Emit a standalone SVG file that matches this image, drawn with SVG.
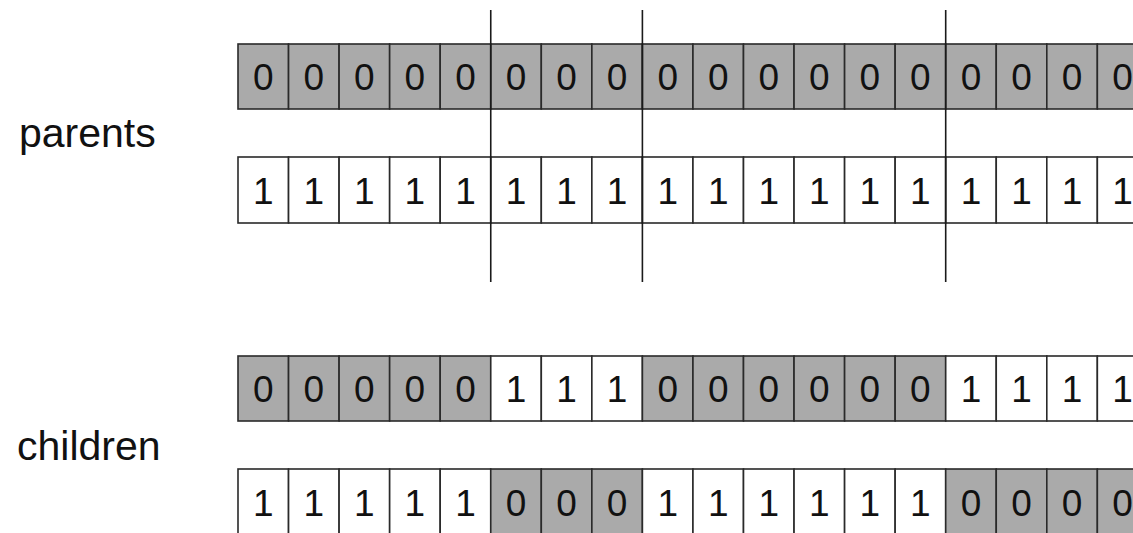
<svg xmlns="http://www.w3.org/2000/svg" width="1133" height="533" viewBox="0 0 1133 533">
<style>
.g{fill:#aaaaaa;stroke:#2a2a2a;stroke-width:1.6}
.w{fill:#ffffff;stroke:#2a2a2a;stroke-width:1.6}
.d{font-family:"Liberation Sans",Arial,sans-serif;font-size:37px;fill:#111;text-anchor:middle}
.lbl{font-family:"Liberation Sans",Arial,sans-serif;font-size:41px;fill:#111}
.cut{stroke:#1a1a1a;stroke-width:1.6;fill:none}
</style>
<rect width="1133" height="533" fill="#ffffff"/>
<g id="label-parents"><text class="lbl" x="19" y="147">parents</text></g>
<g id="label-children"><text class="lbl" x="17" y="460">children</text></g>

<g id="parent-0">
<rect class="g" x="238" y="44" width="50.55" height="65"/><rect class="g" x="288.55" y="44" width="50.55" height="65"/><rect class="g" x="339.1" y="44" width="50.55" height="65"/><rect class="g" x="389.65" y="44" width="50.55" height="65"/><rect class="g" x="440.2" y="44" width="50.55" height="65"/><rect class="g" x="490.75" y="44" width="50.55" height="65"/><rect class="g" x="541.3" y="44" width="50.55" height="65"/><rect class="g" x="591.85" y="44" width="50.55" height="65"/><rect class="g" x="642.4" y="44" width="50.55" height="65"/><rect class="g" x="692.95" y="44" width="50.55" height="65"/><rect class="g" x="743.5" y="44" width="50.55" height="65"/><rect class="g" x="794.05" y="44" width="50.55" height="65"/><rect class="g" x="844.6" y="44" width="50.55" height="65"/><rect class="g" x="895.15" y="44" width="50.55" height="65"/><rect class="g" x="945.7" y="44" width="50.55" height="65"/><rect class="g" x="996.25" y="44" width="50.55" height="65"/><rect class="g" x="1046.8" y="44" width="50.55" height="65"/><rect class="g" x="1097.35" y="44" width="50.55" height="65"/>
<text class="d" x="263.3" y="90">0</text><text class="d" x="313.8" y="90">0</text><text class="d" x="364.4" y="90">0</text><text class="d" x="414.9" y="90">0</text><text class="d" x="465.5" y="90">0</text><text class="d" x="516" y="90">0</text><text class="d" x="566.6" y="90">0</text><text class="d" x="617.1" y="90">0</text><text class="d" x="667.7" y="90">0</text><text class="d" x="718.2" y="90">0</text><text class="d" x="768.8" y="90">0</text><text class="d" x="819.3" y="90">0</text><text class="d" x="869.9" y="90">0</text><text class="d" x="920.4" y="90">0</text><text class="d" x="971" y="90">0</text><text class="d" x="1021.5" y="90">0</text><text class="d" x="1072.1" y="90">0</text><text class="d" x="1122.6" y="90">0</text>
</g>

<g id="parent-1">
<rect class="w" x="238" y="157" width="50.55" height="66"/><rect class="w" x="288.55" y="157" width="50.55" height="66"/><rect class="w" x="339.1" y="157" width="50.55" height="66"/><rect class="w" x="389.65" y="157" width="50.55" height="66"/><rect class="w" x="440.2" y="157" width="50.55" height="66"/><rect class="w" x="490.75" y="157" width="50.55" height="66"/><rect class="w" x="541.3" y="157" width="50.55" height="66"/><rect class="w" x="591.85" y="157" width="50.55" height="66"/><rect class="w" x="642.4" y="157" width="50.55" height="66"/><rect class="w" x="692.95" y="157" width="50.55" height="66"/><rect class="w" x="743.5" y="157" width="50.55" height="66"/><rect class="w" x="794.05" y="157" width="50.55" height="66"/><rect class="w" x="844.6" y="157" width="50.55" height="66"/><rect class="w" x="895.15" y="157" width="50.55" height="66"/><rect class="w" x="945.7" y="157" width="50.55" height="66"/><rect class="w" x="996.25" y="157" width="50.55" height="66"/><rect class="w" x="1046.8" y="157" width="50.55" height="66"/><rect class="w" x="1097.35" y="157" width="50.55" height="66"/>
<text class="d" x="263.3" y="204">1</text><text class="d" x="313.8" y="204">1</text><text class="d" x="364.4" y="204">1</text><text class="d" x="414.9" y="204">1</text><text class="d" x="465.5" y="204">1</text><text class="d" x="516" y="204">1</text><text class="d" x="566.6" y="204">1</text><text class="d" x="617.1" y="204">1</text><text class="d" x="667.7" y="204">1</text><text class="d" x="718.2" y="204">1</text><text class="d" x="768.8" y="204">1</text><text class="d" x="819.3" y="204">1</text><text class="d" x="869.9" y="204">1</text><text class="d" x="920.4" y="204">1</text><text class="d" x="971" y="204">1</text><text class="d" x="1021.5" y="204">1</text><text class="d" x="1072.1" y="204">1</text><text class="d" x="1122.6" y="204">1</text>
</g>

<g id="child-0">
<rect class="g" x="238" y="356" width="50.55" height="65"/><rect class="g" x="288.55" y="356" width="50.55" height="65"/><rect class="g" x="339.1" y="356" width="50.55" height="65"/><rect class="g" x="389.65" y="356" width="50.55" height="65"/><rect class="g" x="440.2" y="356" width="50.55" height="65"/><rect class="w" x="490.75" y="356" width="50.55" height="65"/><rect class="w" x="541.3" y="356" width="50.55" height="65"/><rect class="w" x="591.85" y="356" width="50.55" height="65"/><rect class="g" x="642.4" y="356" width="50.55" height="65"/><rect class="g" x="692.95" y="356" width="50.55" height="65"/><rect class="g" x="743.5" y="356" width="50.55" height="65"/><rect class="g" x="794.05" y="356" width="50.55" height="65"/><rect class="g" x="844.6" y="356" width="50.55" height="65"/><rect class="g" x="895.15" y="356" width="50.55" height="65"/><rect class="w" x="945.7" y="356" width="50.55" height="65"/><rect class="w" x="996.25" y="356" width="50.55" height="65"/><rect class="w" x="1046.8" y="356" width="50.55" height="65"/><rect class="w" x="1097.35" y="356" width="50.55" height="65"/>
<text class="d" x="263.3" y="402">0</text><text class="d" x="313.8" y="402">0</text><text class="d" x="364.4" y="402">0</text><text class="d" x="414.9" y="402">0</text><text class="d" x="465.5" y="402">0</text><text class="d" x="516" y="402">1</text><text class="d" x="566.6" y="402">1</text><text class="d" x="617.1" y="402">1</text><text class="d" x="667.7" y="402">0</text><text class="d" x="718.2" y="402">0</text><text class="d" x="768.8" y="402">0</text><text class="d" x="819.3" y="402">0</text><text class="d" x="869.9" y="402">0</text><text class="d" x="920.4" y="402">0</text><text class="d" x="971" y="402">1</text><text class="d" x="1021.5" y="402">1</text><text class="d" x="1072.1" y="402">1</text><text class="d" x="1122.6" y="402">1</text>
</g>

<g id="child-1">
<rect class="w" x="238" y="469" width="50.55" height="70"/><rect class="w" x="288.55" y="469" width="50.55" height="70"/><rect class="w" x="339.1" y="469" width="50.55" height="70"/><rect class="w" x="389.65" y="469" width="50.55" height="70"/><rect class="w" x="440.2" y="469" width="50.55" height="70"/><rect class="g" x="490.75" y="469" width="50.55" height="70"/><rect class="g" x="541.3" y="469" width="50.55" height="70"/><rect class="g" x="591.85" y="469" width="50.55" height="70"/><rect class="w" x="642.4" y="469" width="50.55" height="70"/><rect class="w" x="692.95" y="469" width="50.55" height="70"/><rect class="w" x="743.5" y="469" width="50.55" height="70"/><rect class="w" x="794.05" y="469" width="50.55" height="70"/><rect class="w" x="844.6" y="469" width="50.55" height="70"/><rect class="w" x="895.15" y="469" width="50.55" height="70"/><rect class="g" x="945.7" y="469" width="50.55" height="70"/><rect class="g" x="996.25" y="469" width="50.55" height="70"/><rect class="g" x="1046.8" y="469" width="50.55" height="70"/><rect class="g" x="1097.35" y="469" width="50.55" height="70"/>
<text class="d" x="263.3" y="516">1</text><text class="d" x="313.8" y="516">1</text><text class="d" x="364.4" y="516">1</text><text class="d" x="414.9" y="516">1</text><text class="d" x="465.5" y="516">1</text><text class="d" x="516" y="516">0</text><text class="d" x="566.6" y="516">0</text><text class="d" x="617.1" y="516">0</text><text class="d" x="667.7" y="516">1</text><text class="d" x="718.2" y="516">1</text><text class="d" x="768.8" y="516">1</text><text class="d" x="819.3" y="516">1</text><text class="d" x="869.9" y="516">1</text><text class="d" x="920.4" y="516">1</text><text class="d" x="971" y="516">0</text><text class="d" x="1021.5" y="516">0</text><text class="d" x="1072.1" y="516">0</text><text class="d" x="1122.6" y="516">0</text>
</g>

<g id="connectors">
<line class="cut" x1="490.75" y1="10" x2="490.75" y2="282"/>
<line class="cut" x1="642.4" y1="10" x2="642.4" y2="282"/>
<line class="cut" x1="945.7" y1="10" x2="945.7" y2="282"/>
</g>
</svg>
